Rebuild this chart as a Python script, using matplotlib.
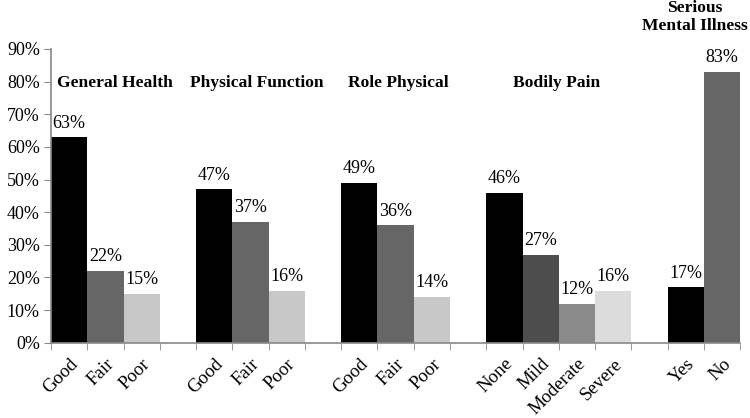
import matplotlib.pyplot as plt
import numpy as np

plt.rcParams['font.family'] = ['Liberation Serif', 'DejaVu Serif']

# one slot per category, blank slots separate the groups
categories = ["Good", "Fair", "Poor", "",
              "Good", "Fair", "Poor", "",
              "Good", "Fair", "Poor", "",
              "None", "Mild", "Moderate", "Severe", "",
              "Yes", "No"]
values = [63, 22, 15, None,
          47, 37, 16, None,
          49, 36, 14, None,
          46, 27, 12, 16, None,
          17, 83]
colors = ["#000000", "#666666", "#c8c8c8", None,
          "#000000", "#666666", "#c8c8c8", None,
          "#000000", "#666666", "#c8c8c8", None,
          "#000000", "#4d4d4d", "#8a8a8a", "#dcdcdc", None,
          "#000000", "#666666"]

group_titles = ["General Health", "Physical Function", "Role Physical",
                "Bodily Pain", "Serious\nMental Illness"]
title_x = [-0.33, 3.33, 7.68, 12.23, 17.24]
title_y = [79.6, 79.6, 79.6, 79.6, 99.7]
title_ha = ["left", "left", "left", "left", "center"]

fig = plt.figure(figsize=(7.5, 4.18), dpi=100)
ax = fig.add_axes([0.068, 0.180, 0.919, 0.703])

x = np.arange(len(categories))
for i, (v, c) in enumerate(zip(values, colors)):
    if v is None:
        continue
    ax.bar(x[i], v / 100, width=1.0, color=c, edgecolor="none")
    ax.annotate(f"{v}%", (x[i], v / 100), xytext=(0, 4), textcoords="offset points",
                ha="center", va="bottom", fontsize=13)

for t, tx, ty, ha in zip(group_titles, title_x, title_y, title_ha):
    ax.text(tx, ty / 100, t, ha=ha, va="center", fontsize=12.6, fontweight="bold",
            linespacing=1.15, clip_on=False)

ax.set_xlim(-0.5, len(categories) - 0.5)
ax.set_ylim(0, 0.9)
ax.set_yticks(np.arange(0, 0.91, 0.1))
ax.set_yticklabels([f"{int(round(t * 100))}%" for t in np.arange(0, 0.91, 0.1)], fontsize=13)

ax.set_xticks(x)
ax.set_xticklabels(categories, rotation=45, ha="right", rotation_mode="anchor", fontsize=13.5)
ax.tick_params(axis="x", length=0, pad=9)
ax.set_xticks(np.arange(-0.5, len(categories), 1.0), minor=True)
ax.tick_params(axis="x", which="minor", length=5, color="#888888", direction="out")
ax.tick_params(axis="y", length=5, color="#888888", direction="out", pad=3)

for s in ["top", "right"]:
    ax.spines[s].set_visible(False)
for s in ["left", "bottom"]:
    ax.spines[s].set_color("#888888")
    ax.spines[s].set_linewidth(1.2)

fig.savefig("out.png", dpi=100)
